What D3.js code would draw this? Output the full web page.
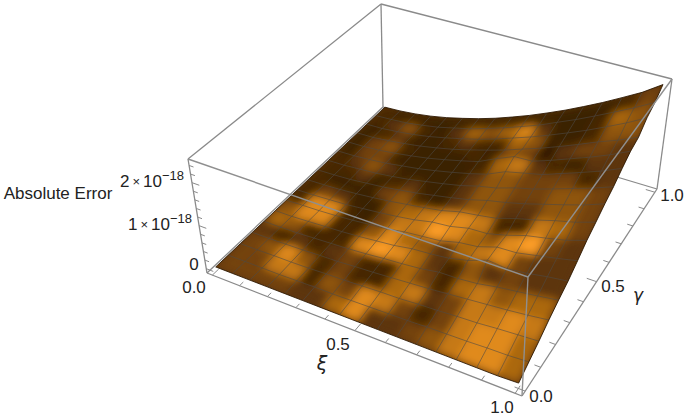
<!DOCTYPE html>
<html>
<head>
<meta charset="utf-8">
<script src="https://cdn.jsdelivr.net/npm/d3@7"></script>
<style>
body{margin:0;background:#fff}
text{font-family:"Liberation Sans",sans-serif;fill:#222}
</style>
</head>
<body>
<script>
// heights in units of 1e-18, rows go from gamma=0 (front) to gamma=1 (back), cols xi=0..1
var zRows = [
[0,0,0,0,0,0,0,0,0,0,0,0,0,0,0,0,0.02],
[0,0,0,0,0.01,0.02,0.02,0.03,0.04,0.05,0.06,0.08,0.09,0.1,0.12,0.13,0.16],
[0,0,0.01,0.01,0.02,0.04,0.05,0.07,0.09,0.1,0.13,0.15,0.18,0.2,0.24,0.27,0.3],
[0,0,0.01,0.02,0.04,0.05,0.08,0.1,0.13,0.16,0.19,0.23,0.27,0.31,0.35,0.4,0.46],
[0,0,0.01,0.03,0.05,0.07,0.1,0.14,0.17,0.21,0.28,0.29,0.33,0.41,0.47,0.53,0.6],
[0,0,0.02,0.04,0.06,0.09,0.13,0.17,0.24,0.27,0.32,0.42,0.58,0.54,0.59,0.67,0.73],
[0,0.01,0.02,0.04,0.07,0.11,0.15,0.22,0.26,0.3,0.41,0.46,0.6,0.62,0.71,0.8,0.9],
[0,0.01,0.03,0.05,0.09,0.13,0.18,0.24,0.33,0.37,0.47,0.49,0.6,0.74,0.83,0.93,1.08],
[0,0.01,0.03,0.06,0.1,0.15,0.21,0.27,0.34,0.45,0.51,0.58,0.72,0.83,0.96,1.07,1.22],
[0,0.01,0.03,0.07,0.11,0.17,0.23,0.31,0.39,0.48,0.6,0.69,0.8,0.93,1.06,1.2,1.37],
[0,0.01,0.04,0.07,0.12,0.18,0.26,0.34,0.43,0.55,0.64,0.78,0.89,1.03,1.18,1.33,1.5],
[0,0.01,0.04,0.08,0.14,0.2,0.28,0.37,0.47,0.59,0.78,0.88,0.98,1.14,1.3,1.47,1.67],
[0,0.01,0.04,0.09,0.15,0.22,0.31,0.41,0.52,0.72,0.9,0.92,1.07,1.24,1.41,1.6,1.82],
[0,0.01,0.05,0.1,0.16,0.24,0.33,0.44,0.56,0.69,0.84,0.99,1.16,1.34,1.53,1.7,1.9],
[0,0.01,0.05,0.1,0.17,0.26,0.36,0.47,0.6,0.75,0.9,1.07,1.25,1.44,1.65,1.87,2.12],
[0,0.02,0.05,0.11,0.18,0.28,0.38,0.51,0.65,0.8,0.96,1.15,1.34,1.55,1.77,2,2.25],
[0,0.02,0.06,0.12,0.2,0.3,0.41,0.54,0.69,0.85,1.03,1.22,1.43,1.65,1.89,2.14,2.45]
];
// brightness of each mesh cell, 0 dark to 9 bright
var shadeRows = [
[4,4,4,4,3,3,6,8,3,3,4,5,7,8,8,6],
[4,4,7,7,2,5,4,8,7,4,2,4,7,8,8,6],
[4,5,8,5,2,4,2,2,6,7,3,4,7,7,8,7],
[3,2,3,2,3,4,2,2,6,4,2,6,7,5,6,6],
[6,5,2,2,2,8,9,8,6,3,2,5,3,4,3,3],
[5,8,8,2,2,5,8,6,5,3,6,7,8,4,3,3],
[2,8,8,2,1,4,7,7,9,8,6,5,8,9,4,3],
[2,4,3,1,1,5,6,7,8,8,7,2,2,7,6,4],
[2,1,1,1,4,5,2,1,3,5,5,3,3,5,5,4],
[2,2,3,1,2,3,1,1,3,5,5,4,4,5,5,4],
[2,3,5,3,1,1,1,1,3,5,5,4,4,4,2,3],
[1,4,4,1,1,1,1,1,2,6,7,3,2,1,3,3],
[1,4,5,2,1,1,1,2,1,4,4,0,3,4,4,3],
[1,2,3,1,1,2,3,2,2,6,5,1,1,2,5,5],
[2,3,5,2,1,3,6,5,6,8,3,1,1,2,6,5],
[2,1,1,1,1,1,1,1,1,1,1,1,1,1,2,4]
];
var xiTicks = [0,0.1,0.2,0.3,0.4,0.5,0.6,0.7,0.8,0.9,1];
var gammaTicks = [0,0.1,0.2,0.3,0.4,0.5,0.6,0.7,0.8,0.9,1];
var zTicks = [0,0.2,0.4,0.6,0.8,1,1.2,1.4,1.6,1.8,2,2.2,2.4];

var width=685,height=416,cells=16;
// unit scales of the plot box
var xScale=d3.scaleLinear().domain([-0.02,1.02]).range([0,1]);
var yScale=d3.scaleLinear().domain([-0.02,1.02]).range([0,1]);
var zScale=d3.scaleLinear().domain([-0.1,2.55]).range([0,1]);
var shadeScale=d3.scaleLinear().domain([0,2,4,6,9]).range(["#2e1802","#472705","#73420b","#ab6711","#fb9c26"]);

// box corners on the page: (0,0) (1,0) (1,1) (0,1)
var floorQuad=[[207,273],[522,396],[657,189],[383,107]];
var roofQuad=[[188,159],[528,277],[672,79],[381,4]];

// square to quad homography
function makeHomography(q){
  var dx1=q[1][0]-q[2][0],dy1=q[1][1]-q[2][1],dx2=q[3][0]-q[2][0],dy2=q[3][1]-q[2][1];
  var sx=q[0][0]-q[1][0]+q[2][0]-q[3][0],sy=q[0][1]-q[1][1]+q[2][1]-q[3][1];
  var den=dx1*dy2-dy1*dx2;
  var g=(sx*dy2-sy*dx2)/den,h=(dx1*sy-dy1*sx)/den;
  var a=q[1][0]-q[0][0]+g*q[1][0],b=q[3][0]-q[0][0]+h*q[3][0];
  var d=q[1][1]-q[0][1]+g*q[1][1],e=q[3][1]-q[0][1]+h*q[3][1];
  return function(u,v){
    var w=g*u+h*v+1;
    return [(a*u+b*v+q[0][0])/w,(d*u+e*v+q[0][1])/w];
  };
}
var floorH=makeHomography(floorQuad),roofH=makeHomography(roofQuad);
function project(u,v,t){
  var p=floorH(u,v),r=roofH(u,v);
  return [p[0]+(r[0]-p[0])*t,p[1]+(r[1]-p[1])*t];
}
function surf(i,j){
  return project(xScale(i/cells),yScale(j/cells),zScale(zRows[j][i]));
}
var line=d3.line();
var svg=d3.select("body").append("svg").attr("width",width).attr("height",height);
var boxCol="#8a8a8a";

function edges(list,col,w){
  list.forEach(function(e){
    svg.append("path").attr("d",line(e)).attr("stroke",col).attr("stroke-width",w).attr("fill","none");
  });
}

// edges behind the surface
edges([[floorQuad[0],floorQuad[3]],[floorQuad[3],floorQuad[2]],[floorQuad[3],roofQuad[3]],[roofQuad[0],roofQuad[3]],[roofQuad[3],roofQuad[2]],[floorQuad[2],roofQuad[2]],[floorQuad[0],roofQuad[0]],[floorQuad[0],floorQuad[1]],[floorQuad[1],floorQuad[2]]],boxCol,1.3);

// ticks on the three axes
xiTicks.forEach(function(d){
  var u=xScale(d),len=(d==0.5||d==0||d==1)?0.03:0.018;
  edges([[project(u,0,0),project(u,len,0)]],boxCol,1);
});
gammaTicks.forEach(function(d){
  var v=yScale(d),len=(d==0.5||d==0||d==1)?0.03:0.018;
  edges([[project(1,v,0),project(1-len,v,0)]],boxCol,1);
});
zTicks.forEach(function(d){
  var t=zScale(d),len=(d==0||d==1||d==2)?0.025:0.015;
  edges([[project(0,0,t),project(len,0,t)]],boxCol,1);
});

// outline of the surface, also used as clip
var outline=[],n;
for(n=0;n<=cells;n++) outline.push(surf(n,0));
for(n=1;n<=cells;n++) outline.push(surf(cells,n));
for(n=cells-1;n>=0;n--) outline.push(surf(n,cells));
for(n=cells-1;n>0;n--) outline.push(surf(0,n));

var defs=svg.append("defs");
defs.append("clipPath").attr("id","surfClip").append("path").attr("d",line(outline)+"Z");
defs.append("filter").attr("id","soft").attr("filterUnits","userSpaceOnUse")
  .attr("x",0).attr("y",0).attr("width",width).attr("height",height)
  .append("feGaussianBlur").attr("stdDeviation",4.5);

// surface cells, back to front
var cellList=[];
for(var j=cells-1;j>=0;j--){
  for(var i=0;i<cells;i++){
    cellList.push({i:i,j:j,s:shadeRows[j][i]});
  }
}
var clipGroup=svg.append("g").attr("clip-path","url(#surfClip)");
clipGroup.append("path").attr("d",line(outline)+"Z").attr("fill",shadeScale(3));
clipGroup.append("g").attr("filter","url(#soft)")
  .selectAll("path").data(cellList).enter().append("path")
  .attr("d",function(d){
    return line([surf(d.i,d.j),surf(d.i+1,d.j),surf(d.i+1,d.j+1),surf(d.i,d.j+1)])+"Z";
  })
  .attr("fill",function(d){return shadeScale(d.s);})
  .attr("stroke",function(d){return shadeScale(d.s);})
  .attr("stroke-width",0.6);

// mesh lines
for(var k=1;k<cells;k++){
  var a=[],b=[];
  for(var m=0;m<=cells;m++){a.push(surf(m,k));b.push(surf(k,m));}
  svg.append("path").attr("d",line(a)).attr("stroke","#4d4a46").attr("stroke-opacity",0.65).attr("stroke-width",0.9).attr("fill","none");
  svg.append("path").attr("d",line(b)).attr("stroke","#4d4a46").attr("stroke-opacity",0.65).attr("stroke-width",0.9).attr("fill","none");
}
// dark rim on the surface
svg.append("path").attr("d",line(outline)+"Z").attr("fill","none").attr("stroke","#2e1802").attr("stroke-width",0.9);

// edges in front of the surface
edges([[roofQuad[0],roofQuad[1]],[roofQuad[1],roofQuad[2]],[floorQuad[1],roofQuad[1]]],"#8f8f8f",1.4);

// tick labels
function label(x,y,s,size,style){
  var t=svg.append("text").attr("x",x).attr("y",y).attr("text-anchor","middle")
    .attr("dominant-baseline","central").attr("font-size",size).text(s);
  if(style) t.style("font-style",style).style("font-family","'DejaVu Sans',sans-serif");
  return t;
}
label(194,287,"0.0",17);
label(338,344,"0.5",17);
label(502,407,"1.0",17);
label(541,396,"0.0",17);
label(613,286,"0.5",17);
label(672,195,"1.0",17);
label(322,363,"ξ",19,"italic");
label(638,295,"γ",17,"italic");
label(194,264,"0",17);
label(58,193,"Absolute Error",17);
function powerLabel(xRight,y,digit){
  var t=svg.append("text").attr("x",xRight).attr("y",y).attr("text-anchor","end").attr("dominant-baseline","central").attr("font-size",17);
  t.append("tspan").text(digit);
  t.append("tspan").attr("dx",3).attr("font-size",13).text("×");
  t.append("tspan").attr("dx",3).text("10");
  t.append("tspan").attr("font-size",13).attr("dy",-6).text("−18");
}
powerLabel(184,181,"2");
powerLabel(192,224,"1");
</script>
</body>
</html>
